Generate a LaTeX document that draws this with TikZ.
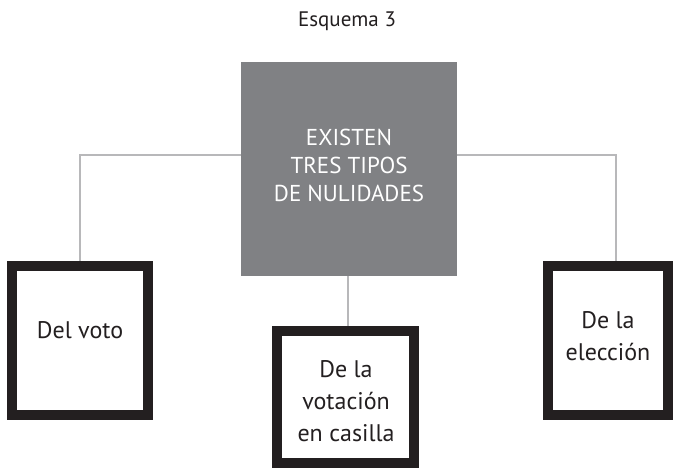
\documentclass[tikz,border=0pt]{standalone}
\usepackage{fontspec}
\setmainfont{PT Sans}
\begin{document}
\begin{tikzpicture}[x=1pt,y=-1pt,
  conn/.style={draw=linegray,line width=1.3pt},
  leafbox/.style={draw=boxblack,line width=10pt,fill=white},
  lbl/.style={align=center,font=\fontsize{24}{32}\selectfont,text=textblack,inner sep=0pt}]
\definecolor{linegray}{HTML}{B8B8BA}
\definecolor{boxgray}{HTML}{808184}
\definecolor{boxblack}{HTML}{231F20}
\definecolor{textblack}{HTML}{231F20}
\useasboundingbox (0,0) rectangle (682,470);
\node[lbl,font=\fontsize{21}{24}\selectfont] (title) at (347,21) {Esquema 3};
% central box
\fill[boxgray] (241,62) rectangle (457,276);
\node[inner sep=0pt,minimum width=216pt,minimum height=214pt] (c) at (349,169) {};
\node[lbl,text=white,font=\fontsize{23}{28}\selectfont] (ct) at (349,165) {EXISTEN\\TRES TIPOS\\DE NULIDADES};
% leaf boxes
\draw[leafbox] (12,266) rectangle (148,415);
\node[inner sep=0pt,minimum width=136pt,minimum height=149pt] (l) at (80,340.5) {};
\draw[leafbox] (277,331) rectangle (414,463);
\node[inner sep=0pt,minimum width=137pt,minimum height=132pt] (m) at (345.5,397) {};
\draw[leafbox] (548,266) rectangle (668,415);
\node[inner sep=0pt,minimum width=120pt,minimum height=149pt] (r) at (608,340.5) {};
\node[lbl] (lt) at (80,330) {Del voto};
\node[lbl] (mt) at (346,401) {De la\\votación\\en casilla};
\node[lbl] (rt) at (608,336) {De la\\elección};
% connectors
\coordinate (lc) at (80,155);
\coordinate (rc) at (616,155);
\draw[conn] (c.west |- lc) -- (lc) -- (80,261);
\draw[conn] (c.east |- rc) -- (rc) -- (616,261);
\draw[conn] (348,276) -- (348,326);
\end{tikzpicture}
\end{document}
